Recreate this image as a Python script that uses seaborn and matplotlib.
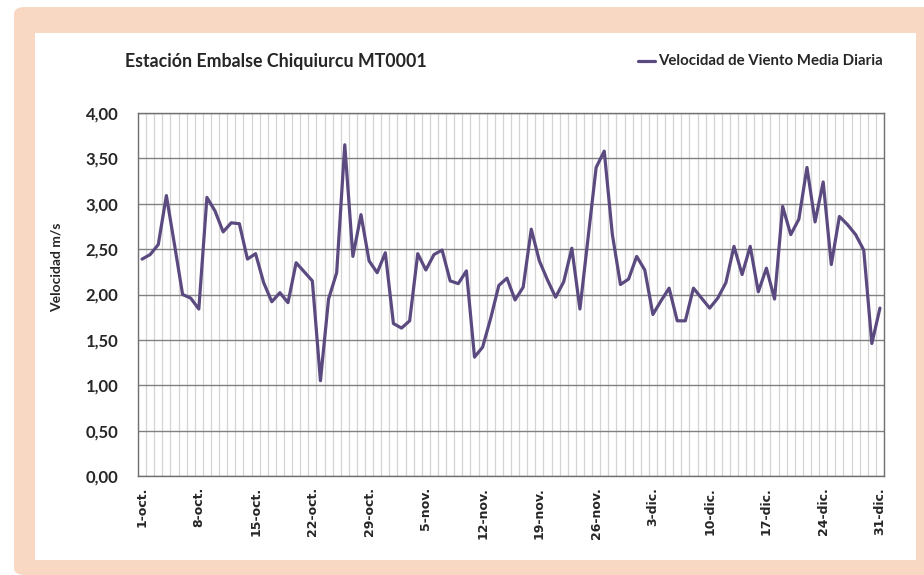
import matplotlib
matplotlib.use("Agg")
import matplotlib.pyplot as plt
from matplotlib.patches import FancyBboxPatch, Rectangle
from matplotlib.lines import Line2D
import seaborn as sns
import pandas as pd

# daily mean wind speed, 1-oct .. 31-dic
velocidad = [
    2.39, 2.44, 2.55, 3.09, 2.55, 2.00, 1.96, 1.84, 3.07, 2.92,
    2.69, 2.79, 2.78, 2.39, 2.45, 2.13, 1.92, 2.02, 1.91, 2.35,
    2.25, 2.15, 1.05, 1.95, 2.24, 3.65, 2.42, 2.88, 2.37, 2.24,
    2.46, 1.68, 1.63, 1.71, 2.45, 2.27, 2.44, 2.49, 2.15, 2.12,
    2.26, 1.31, 1.42, 1.74, 2.10, 2.18, 1.94, 2.08, 2.72, 2.37,
    2.16, 1.97, 2.14, 2.51, 1.84, 2.62, 3.40, 3.58, 2.66, 2.11,
    2.17, 2.42, 2.27, 1.78, 1.93, 2.07, 1.71, 1.71, 2.07, 1.96,
    1.85, 1.96, 2.13, 2.53, 2.22, 2.53, 2.03, 2.29, 1.95, 2.97,
    2.66, 2.83, 3.40, 2.80, 3.24, 2.33, 2.86, 2.77, 2.66, 2.49,
    1.46, 1.85,
]
tick_days = [0, 7, 14, 21, 28, 35, 42, 49, 56, 63, 70, 77, 84, 91]
tick_labels = ["1-oct.", "8-oct.", "15-oct.", "22-oct.", "29-oct.", "5-nov.",
               "12-nov.", "19-nov.", "26-nov.", "3-dic.", "10-dic.", "17-dic.",
               "24-dic.", "31-dic."]
y_ticks = [0, 0.5, 1.0, 1.5, 2.0, 2.5, 3.0, 3.5, 4.0]

df = pd.DataFrame({"dia": range(len(velocidad)), "vel": velocidad})

sns.set_style("white")
plt.rcParams["font.family"] = ["Lato", "DejaVu Sans"]
plt.rcParams["font.weight"] = "bold"

W, H = 924, 575
fig = plt.figure(figsize=(W / 100, H / 100), dpi=100)
fig.patch.set_facecolor("white")

peach = "#F9D8C3"
# peach frame with white panel behind everything
fig.patches.append(FancyBboxPatch((14 / W, 0), (W + 30) / W, (H - 7) / H,
                                  boxstyle="round,pad=0,rounding_size=0.012",
                                  transform=fig.transFigure, facecolor=peach,
                                  edgecolor="none", zorder=-2))
fig.patches.append(Rectangle((35 / W, (H - 560) / H), (916 - 35) / W, (560 - 33) / H,
                             transform=fig.transFigure, facecolor="white",
                             edgecolor="none", zorder=-1))

ax = fig.add_axes([138 / W, 1 - 476 / H, (884 - 138) / W, (476 - 113) / H])
ax.set_zorder(1)
ax.set_facecolor("white")

line_color = "#5B4A80"
sns.lineplot(data=df, x="dia", y="vel", ax=ax, color=line_color, linewidth=2.3,
             zorder=3, legend=False)

ax.set_xlim(-0.5, len(velocidad) - 0.5)
ax.set_ylim(0, 4)
ax.set_yticks(y_ticks)
ax.set_yticklabels([f"{v:.2f}".replace(".", ",") for v in y_ticks])
ax.set_xticks([d + 0.5 for d in range(-1, len(velocidad))], minor=True)
ax.set_xticks(tick_days)
ax.set_xticklabels(tick_labels, rotation=90)
ax.tick_params(axis="both", which="both", length=0)
ax.tick_params(axis="y", pad=14, labelsize=12)
ax.tick_params(axis="x", pad=8, labelsize=9, labelfontfamily="DejaVu Sans")

ax.grid(False)
ax.grid(True, which="minor", axis="x", color="#d4d4d4", linewidth=0.9)
ax.grid(True, which="major", axis="y", color="#808080", linewidth=1.0)
ax.set_axisbelow(True)
for s in ax.spines.values():
    s.set_visible(True)
    s.set_color("#707070")
    s.set_linewidth(1.0)

ax.set_xlabel("")
ax.set_ylabel("")
fig.text(57 / W, 1 - 267 / H, "Velocidad m/s", rotation=90, ha="center",
         va="center", fontsize=10)

fig.text(125 / W, 1 - 61 / H, "Estación Embalse Chiquiurcu MT0001", ha="left",
         va="center", fontsize=12.8)

fig.lines.append(Line2D([638 / W, 655 / W], [1 - 61 / H, 1 - 61 / H],
                        transform=fig.transFigure, color=line_color, linewidth=2.3))
fig.text(658 / W, 1 - 61 / H, "Velocidad de Viento Media Diaria", ha="left",
         va="center", fontsize=10.8)

fig.savefig("out.png", dpi=100)
